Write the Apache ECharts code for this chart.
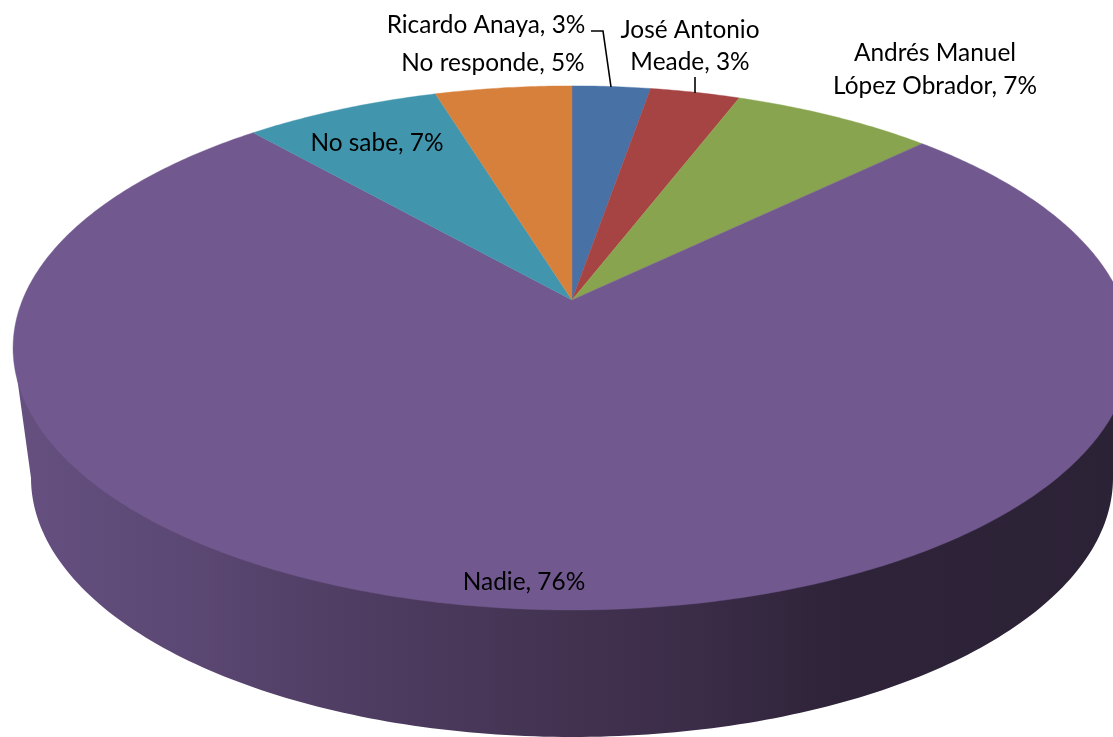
<!DOCTYPE html>
<html>
<head>
<meta charset="utf-8">
<style>html,body{margin:0;padding:0;background:#fff}#c{width:1113px;height:737px}</style>
<script src="https://cdn.jsdelivr.net/npm/echarts@6/dist/echarts.min.js"></script>
</head>
<body>
<div id="c"></div>
<script>
var categories = ['Ricardo Anaya', 'José Antonio Meade', 'Andrés Manuel López Obrador', 'Nadie', 'No sabe', 'No responde'];
var shares = [2.7, 3.1, 6.95, 75.78, 6.75, 4.72];
var colors = ['#4871a6', '#a64443', '#88a44e', '#71588f', '#4196ae', '#d7803c'];

var total = shares.reduce(function (a, b) { return a + b; }, 0);
var K = 0.183, AX = 572, AY = 300, A = 253.3, B = 549.5;
function project(t) {
  var u = Math.sin(t), v = -Math.cos(t), d = 1 - K * v;
  return [AX + B * u / d, AY + A * v / d];
}
var labelLayout = [
  { lines: ['Ricardo Anaya, #'], x: 486, y: [25] },
  { lines: ['José Antonio', 'Meade, #'], x: 690, y: [30, 62] },
  { lines: ['Andrés Manuel', 'López Obrador, #'], x: 935, y: [53, 86] },
  { lines: ['Nadie, #'], x: 524, y: [582] },
  { lines: ['No sabe, #'], x: 377, y: [143] },
  { lines: ['No responde, #'], x: 493, y: [63] }
];
var leaders = { 0: [[591, 31], [603, 31], [611, 87]], 1: [[695, 77], [695, 93]] };

function renderWall(params, api) {
  var pts = [[13, 348]], i, a;
  for (i = 0; i <= 180; i++) {
    a = Math.PI - i * Math.PI / 180;
    pts.push([572 + 541 * Math.cos(a), 478 + 259 * Math.sin(a)]);
  }
  pts.push([1131, 348]);
  return {
    type: 'polygon',
    shape: { points: pts },
    style: {
      fill: new echarts.graphic.LinearGradient(0, 0, 1, 0, [
        { offset: 0, color: '#655080' },
        { offset: 0.15, color: '#5c4874' },
        { offset: 0.3, color: '#4f3d63' },
        { offset: 0.5, color: '#423250' },
        { offset: 0.62, color: '#3a2b47' },
        { offset: 0.74, color: '#2e2338' },
        { offset: 1, color: '#2c2236' }
      ])
    }
  };
}
function renderSlice(params, api) {
  var i = params.dataIndex, before = 0, j;
  for (j = 0; j < i; j++) before += shares[j];
  var v = api.value(0);
  var a0 = before / total * 2 * Math.PI, a1 = (before + v) / total * 2 * Math.PI;
  var n = Math.max(2, Math.ceil((a1 - a0) / 0.01)), pts = [[AX, AY]];
  for (j = 0; j <= n; j++) pts.push(project(a0 + (a1 - a0) * j / n));
  return {
    type: 'polygon',
    shape: { points: pts },
    style: { fill: colors[i], stroke: colors[i], lineWidth: 0.4 }
  };
}
function renderLabel(params, api) {
  var i = params.dataIndex, lay = labelLayout[i], pct = Math.round(api.value(0)) + '%', kids = [];
  lay.lines.forEach(function (line, k) {
    kids.push({
      type: 'text',
      style: {
        x: lay.x, y: lay.y[k], text: line.replace('#', pct),
        fill: '#000', align: 'center', verticalAlign: 'middle',
        font: '24.4px Lato, Carlito, sans-serif'
      }
    });
  });
  if (leaders[i]) {
    kids.push({
      type: 'polyline',
      shape: { points: leaders[i] },
      style: { stroke: '#000', lineWidth: 1.6, fill: null }
    });
  }
  return { type: 'group', children: kids };
}
var data = shares.map(function (v, i) { return { name: categories[i], value: [v] }; });
var chart = echarts.init(document.getElementById('c'));
chart.setOption({
  animation: false,
  backgroundColor: '#ffffff',
  series: [
    { type: 'custom', coordinateSystem: 'none', renderItem: renderWall, data: [[1]], silent: true, z: 1 },
    { type: 'custom', coordinateSystem: 'none', renderItem: renderSlice, data: data, z: 2 },
    { type: 'custom', coordinateSystem: 'none', renderItem: renderLabel, data: data, z: 3 }
  ]
});
</script>
</body>
</html>
